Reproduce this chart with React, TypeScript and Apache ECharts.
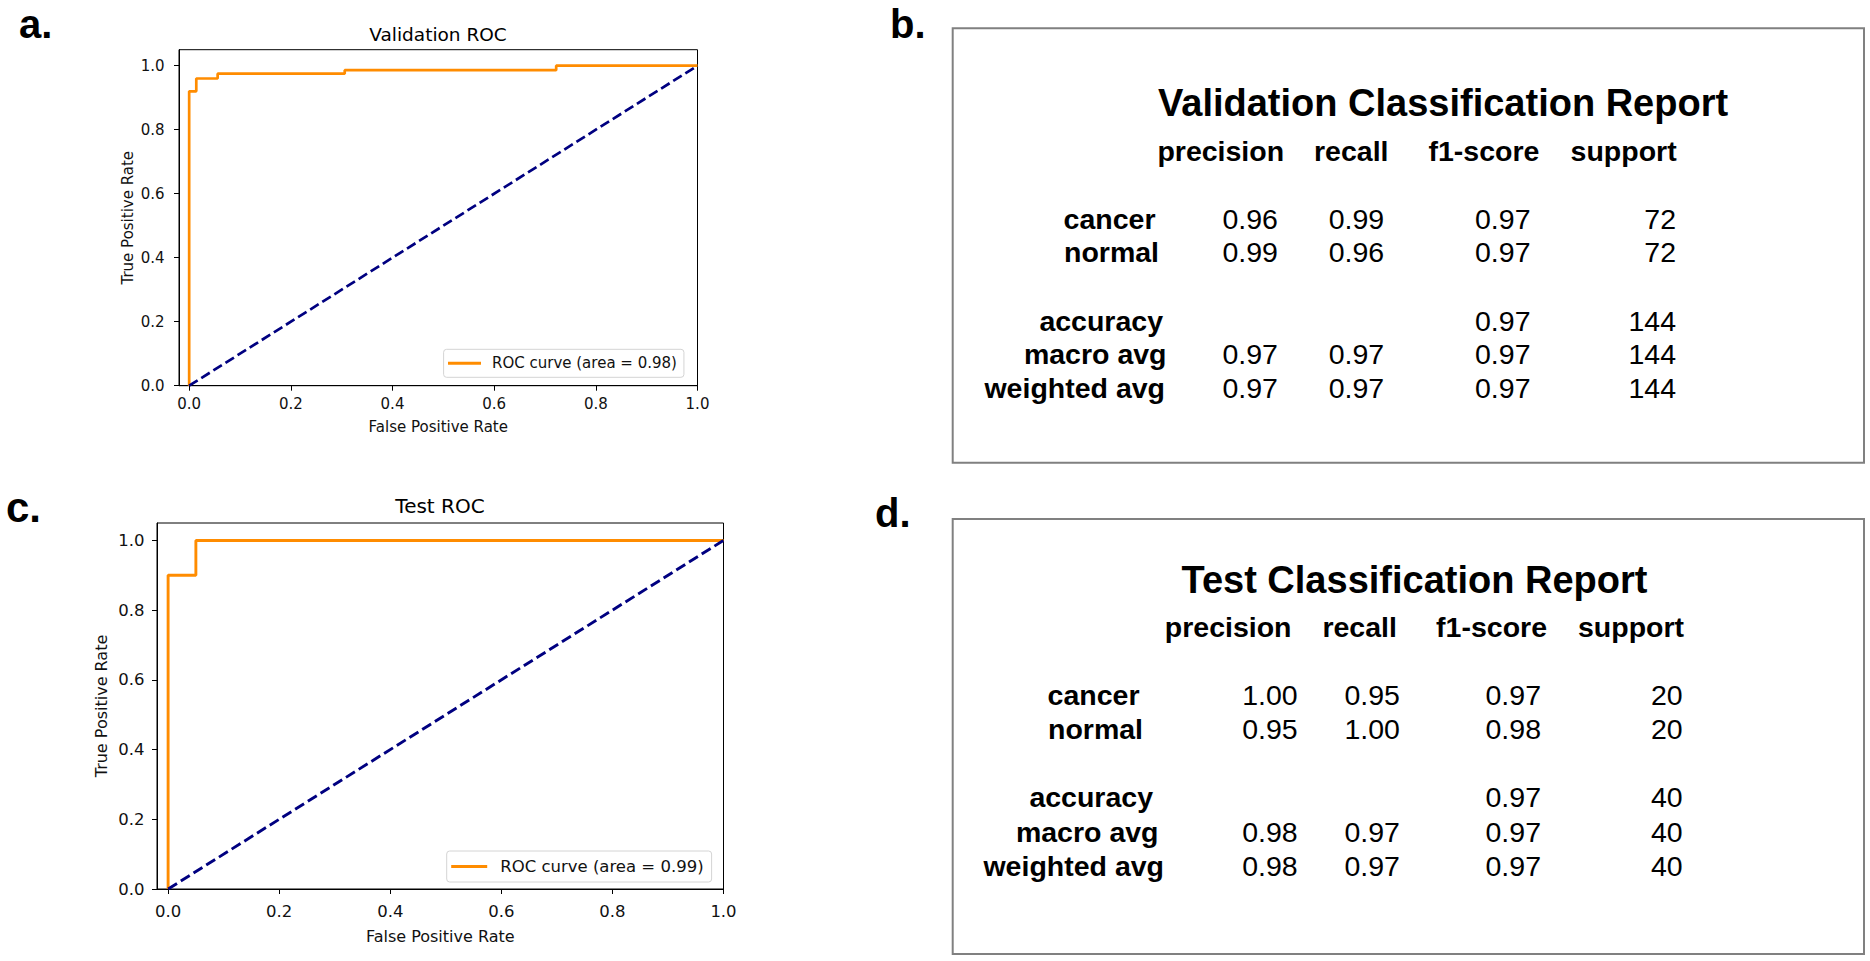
import React, { useEffect, useRef } from 'react';
import * as echarts from 'echarts';

// ---------- data ----------
const rateTicks = [0, 0.2, 0.4, 0.6, 0.8, 1.0];

const valFpr = [0, 0, 0.014, 0.014, 0.056, 0.056, 0.306, 0.306, 0.722, 0.722, 1.0];
const valTpr = [0, 0.92, 0.92, 0.96, 0.96, 0.975, 0.975, 0.986, 0.986, 1.0, 1.0];
const testFpr = [0, 0, 0.05, 0.05, 1.0];
const testTpr = [0, 0.9, 0.9, 1.0, 1.0];
const chanceFpr = [0, 1];
const chanceTpr = [0, 1];

const valRocName = 'ROC curve (area = 0.98)';
const testRocName = 'ROC curve (area = 0.99)';

const reportColumns = ['precision', 'recall', 'f1-score', 'support'];
const reportRows = ['cancer', 'normal', 'accuracy', 'macro avg', 'weighted avg'];

const valPrecision = [0.96, 0.99, null, 0.97, 0.97];
const valRecall = [0.99, 0.96, null, 0.97, 0.97];
const valF1 = [0.97, 0.97, 0.97, 0.97, 0.97];
const valSupport = [72, 72, 144, 144, 144];

const testPrecision = [1.0, 0.95, null, 0.98, 0.98];
const testRecall = [0.95, 1.0, null, 0.97, 0.97];
const testF1 = [0.97, 0.98, 0.97, 0.97, 0.97];
const testSupport = [20, 20, 40, 40, 40];

// ---------- layout ----------
const PLOT_FONT = "'DejaVu Sans', sans-serif";
const TABLE_FONT = "'Liberation Sans', Arial, sans-serif";
const ORANGE = '#FF8C00';
const NAVY = '#000080';

const valLayout = {
  box: [952.7, 28.3, 911.3, 434.4],
  titleX: 1158,
  titleBase: 116,
  headerX: [1157.4, 1314, 1428.5, 1570.6],
  headerBase: 161,
  numRight: [1277.9, 1384.2, 1530.5, 1676],
  rowBase: [229, 262, 330.5, 364, 398],
  labelRight: [1155.5, 1159, 1163, 1166.5, 1165],
};
const testLayout = {
  box: [952.7, 519, 911.3, 435],
  titleX: 1181.5,
  titleBase: 593.3,
  headerX: [1164.8, 1322.4, 1436.1, 1578],
  headerBase: 637.3,
  numRight: [1297.7, 1399.9, 1541, 1682.7],
  rowBase: [705, 739, 807.3, 841.7, 875.7],
  labelRight: [1139.5, 1143, 1153, 1158.5, 1164],
};

function txt(
  text: string,
  x: number,
  base: number,
  fs: number,
  family: string,
  weight: string | number = 'normal',
  align: string = 'left'
) {
  return {
    type: 'text',
    x,
    y: base - 0.346 * fs,
    silent: true,
    z: 10,
    style: {
      text,
      fontSize: fs,
      fontFamily: family,
      fontWeight: weight,
      fill: '#000',
      align,
      verticalAlign: 'middle',
    },
  };
}

function reportGraphics(
  title: string,
  L: typeof valLayout,
  cols: (number | null)[][]
) {
  const els: any[] = [];
  els.push({
    type: 'rect',
    shape: { x: L.box[0], y: L.box[1], width: L.box[2], height: L.box[3] },
    style: { fill: 'none', stroke: '#808080', lineWidth: 2 },
    silent: true,
    z: 5,
  });
  els.push(txt(title, L.titleX, L.titleBase, 38, TABLE_FONT, 'bold'));
  reportColumns.forEach((c, i) => {
    els.push(txt(c, L.headerX[i], L.headerBase, 28.5, TABLE_FONT, 'bold'));
  });
  reportRows.forEach((r, ri) => {
    els.push(txt(r, L.labelRight[ri], L.rowBase[ri], 28.5, TABLE_FONT, 'bold', 'right'));
    cols.forEach((col, ci) => {
      const v = col[ri];
      if (v === null || v === undefined) return;
      const s = ci === 3 ? String(v) : (v as number).toFixed(2);
      els.push(txt(s, L.numRight[ci], L.rowBase[ri], 28.5, TABLE_FONT, 'normal', 'right'));
    });
  });
  return els;
}

function xAxisCfg(gridIndex: number, fs: number, margin: number, nameGap: number, nameFs: number) {
  return {
    type: 'value',
    gridIndex,
    min: -0.02,
    max: 1.0,
    name: 'False Positive Rate',
    nameLocation: 'middle',
    nameGap,
    nameTextStyle: { fontSize: nameFs, fontFamily: PLOT_FONT, color: '#111' },
    axisLine: { show: true, onZero: false, lineStyle: { color: '#000', width: 1 } },
    axisTick: { show: true, customValues: rateTicks, length: 5, inside: false, lineStyle: { color: '#000', width: 1 } },
    axisLabel: {
      customValues: rateTicks,
      formatter: (v: number) => v.toFixed(1),
      fontSize: fs,
      fontFamily: PLOT_FONT,
      color: '#111',
      margin,
    },
    splitLine: { show: false },
  };
}

function yAxisCfg(gridIndex: number, fs: number, margin: number, nameGap: number, nameFs: number) {
  return {
    type: 'value',
    gridIndex,
    min: 0,
    max: 1.05,
    name: 'True Positive Rate',
    nameLocation: 'middle',
    nameGap,
    nameTextStyle: { fontSize: nameFs, fontFamily: PLOT_FONT, color: '#111' },
    axisLine: { show: true, onZero: false, lineStyle: { color: '#000', width: 1 } },
    axisTick: { show: true, customValues: rateTicks, length: 5, inside: false, lineStyle: { color: '#000', width: 1 } },
    axisLabel: {
      customValues: rateTicks,
      formatter: (v: number) => v.toFixed(1),
      fontSize: fs,
      fontFamily: PLOT_FONT,
      color: '#111',
      margin,
    },
    splitLine: { show: false },
  };
}

function legendCfg(name: string, left: number, top: number, pad: number[], itemWidth: number, fs: number, textPad: number) {
  return {
    data: [name],
    left,
    top,
    orient: 'horizontal',
    icon: 'rect',
    itemWidth,
    itemHeight: 3,
    padding: pad,
    borderColor: '#d4d4d4',
    borderWidth: 1,
    borderRadius: 3,
    backgroundColor: 'rgba(255,255,255,0.8)',
    selectedMode: false,
    textStyle: { fontSize: fs, fontFamily: PLOT_FONT, color: '#111', padding: [0, 0, 0, textPad], lineHeight: 16 },
  };
}

function pairs(xs: number[], ys: number[]) {
  return xs.map((x, i) => [x, ys[i]]);
}

export default function App() {
  const ref = useRef<HTMLDivElement>(null);

  useEffect(() => {
    document.body.style.margin = '0';
    if (!ref.current) return;
    const chart = echarts.init(ref.current, undefined, { renderer: 'svg' });

    const graphics: any[] = [
      txt('a.', 19, 37.5, 40, TABLE_FONT, 'bold'),
      txt('b.', 890, 38, 40, TABLE_FONT, 'bold'),
      txt('c.', 6, 521.7, 42, TABLE_FONT, 'bold'),
      txt('d.', 875, 527, 40, TABLE_FONT, 'bold'),
      txt('Validation ROC', 438, 41, 18.5, PLOT_FONT, 'normal', 'center'),
      txt('Test ROC', 440, 513, 20, PLOT_FONT, 'normal', 'center'),
      ...reportGraphics('Validation Classification Report', valLayout, [valPrecision, valRecall, valF1, valSupport]),
      ...reportGraphics('Test Classification Report', testLayout, [testPrecision, testRecall, testF1, testSupport]),
    ];

    chart.setOption({
      animation: false,
      backgroundColor: '#fff',
      grid: [
        { left: 179, top: 49.7, width: 518.5, height: 336, show: true, borderColor: '#000', borderWidth: 1, backgroundColor: 'transparent' },
        { left: 157, top: 523, width: 566.5, height: 366, show: true, borderColor: '#000', borderWidth: 1, backgroundColor: 'transparent' },
      ],
      xAxis: [xAxisCfg(0, 15, 11, 34, 15), xAxisCfg(1, 16.5, 14, 39, 16)],
      yAxis: [yAxisCfg(0, 15, 14.5, 43.4, 15), yAxisCfg(1, 16.5, 12.6, 47.8, 16)],
      legend: [
        legendCfg(valRocName, 443.6, 349.3, [6, 7, 6, 4.4], 33, 15, 6),
        legendCfg(testRocName, 446.7, 851, [7, 8, 7, 4.5], 36, 16.5, 8),
      ],
      series: [
        {
          type: 'line',
          name: valRocName,
          xAxisIndex: 0,
          yAxisIndex: 0,
          data: pairs(valFpr, valTpr),
          symbol: 'none',
          lineStyle: { color: ORANGE, width: 2.7 },
          itemStyle: { color: ORANGE },
        },
        {
          type: 'line',
          name: 'chance-val',
          xAxisIndex: 0,
          yAxisIndex: 0,
          data: pairs(chanceFpr, chanceTpr),
          symbol: 'none',
          lineStyle: { color: NAVY, width: 2.7, type: [10, 4.3] },
          itemStyle: { color: NAVY },
        },
        {
          type: 'line',
          name: testRocName,
          xAxisIndex: 1,
          yAxisIndex: 1,
          data: pairs(testFpr, testTpr),
          symbol: 'none',
          lineStyle: { color: ORANGE, width: 2.9 },
          itemStyle: { color: ORANGE },
        },
        {
          type: 'line',
          name: 'chance-test',
          xAxisIndex: 1,
          yAxisIndex: 1,
          data: pairs(chanceFpr, chanceTpr),
          symbol: 'none',
          lineStyle: { color: NAVY, width: 2.9, type: [10.5, 4.5] },
          itemStyle: { color: NAVY },
        },
      ],
      graphic: graphics,
    });

    return () => {
      chart.dispose();
    };
  }, []);

  return <div ref={ref} style={{ width: 1870, height: 961 }} />;
}
